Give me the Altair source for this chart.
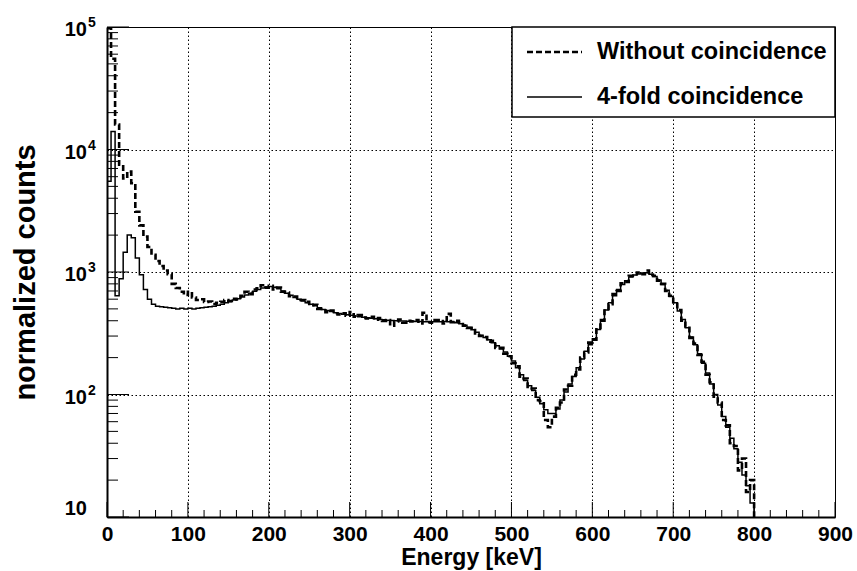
import altair as alt
import pandas as pd

FONT = "Liberation Sans"

# ---- data: histogram contents, 5 keV bins, left edges 0..795 keV ----
bin_edges = list(range(0, 800, 5))

fourfold_coinc = [
    5500, 14000, 640, 880, 1450, 2000, 1900, 1300, 950, 720,
    600, 545, 525, 520, 515, 510, 505, 500, 505, 500,
    505, 500, 505, 510, 515, 520, 525, 535, 545, 560,
    575, 590, 605, 625, 650, 670, 695, 720, 740, 755,
    760, 750, 730, 700, 670, 645, 620, 600, 580, 560,
    545, 530, 510, 495, 485, 475, 465, 458, 452, 447,
    443, 438, 432, 428, 424, 420, 415, 410, 407, 404,
    402, 400, 399, 398, 397, 396, 395, 394, 393, 393,
    392, 392, 393, 395, 393, 390, 385, 378, 368, 352,
    338, 322, 305, 292, 280, 265, 250, 235, 222, 205,
    188, 165, 145, 130, 118, 108, 95, 84, 75, 70,
    70, 76, 90, 105, 122, 140, 165, 195, 225, 255,
    285, 340, 410, 490, 560, 640, 720, 790, 850, 910,
    945, 965, 980, 985, 960, 920, 860, 790, 710, 630,
    560, 480, 410, 350, 295, 255, 215, 180, 150, 122,
    100, 82, 66, 54, 44, 36, 28, 22, 18, 13,
]

without_coinc = [
    98000, 55000, 16000, 7500, 5800, 6600, 5300, 3100, 2400, 1950,
    1600, 1380, 1230, 1120, 1030, 960, 800, 740, 690, 650,
    690, 620, 590, 600, 570, 575, 548, 560, 570, 590,
    578, 605, 598, 640, 690, 660, 720, 735, 780, 745,
    770, 720, 745, 690, 680, 635, 630, 590, 590, 570,
    535, 540, 500, 500, 470, 485, 460, 450, 460, 440,
    470, 432, 445, 425, 418, 430, 408, 420, 398, 405,
    365, 395, 410, 385, 400, 395, 405, 380, 465, 390,
    385, 405, 398, 380, 455, 390, 400, 388, 365, 350,
    350, 315, 300, 295, 270, 275, 240, 240, 215, 205,
    180, 170, 140, 135, 112, 112, 90, 88, 62, 54,
    66, 78, 86, 110, 118, 145, 160, 200, 220, 265,
    280, 350, 400, 500, 545, 660, 700, 810, 830, 930,
    930, 990, 960, 1030, 950, 930, 850, 800, 700, 640,
    550, 490, 400, 360, 290, 260, 210, 185, 145, 126,
    96, 86, 62, 56, 40, 38, 24, 30, 16, 20,
]

hist_end = 800          # histogram is empty above this energy
empty_level = 1         # stand-in for zero counts (below the log axis)

x_major = list(range(0, 901, 100))
x_minor = [e for e in range(0, 901, 20) if e % 100]
y_decades = [10, 100, 1000, 10000, 100000]
y_exponents = ["2", "3", "4", "5"]
y_minor = [m * 10 ** k for k in range(1, 5) for m in range(2, 10)]

legend_labels = ["Without coincidence", "4-fold coincidence"]

# ---- tables ----
def hist_frame(values):
    return pd.DataFrame({"E": bin_edges + [hist_end], "v": values + [empty_level]})

df_solid = hist_frame(fourfold_coinc)
df_dash = hist_frame(without_coinc)

W, H = 728, 490

x_scale = alt.Scale(domain=[0, 900], nice=False, zero=False)
y_scale = alt.Scale(type="log", domain=[10, 100000], nice=False)

GRID_DASH = [1.5, 2.5]

x_axis = alt.Axis(
    values=x_major, grid=True, gridColor="black", gridDash=GRID_DASH, gridWidth=1,
    gridOpacity=1, ticks=False, domainColor="black", domainWidth=2,
    labelFont=FONT, labelFontSize=21, labelFontWeight="bold", labelColor="black",
    labelPadding=6, labelFlush=False,
    title="Energy [keV]", titleFont=FONT, titleFontSize=23, titleFontWeight="bold",
    titleColor="black", titleX=W / 2, titleY=47, titleBaseline="alphabetic",
)
y_axis = alt.Axis(
    values=y_decades, grid=True, gridColor="black", gridDash=GRID_DASH, gridWidth=1,
    gridOpacity=1, ticks=False, labels=False, domainColor="black", domainWidth=2,
    title="normalized counts", titleFont=FONT, titleFontSize=29, titleFontWeight="bold",
    titleColor="black", titleX=-82, titleY=H / 2, titleBaseline="middle", titleAngle=270,
)

X = alt.X("E:Q", scale=x_scale, axis=x_axis)
Y = alt.Y("v:Q", scale=y_scale, axis=y_axis)

solid = alt.Chart(df_solid).mark_line(
    interpolate="step-after", clip=True, color="black", strokeWidth=1.5
).encode(x=X, y=Y)

dashed = alt.Chart(df_dash).mark_line(
    interpolate="step-after", clip=True, color="black", strokeWidth=2.6, strokeDash=[6, 3]
).encode(x=X, y=Y)

# inside ticks
xt_major = alt.Chart(pd.DataFrame({"E": x_major})).mark_rule(color="black", strokeWidth=1).encode(
    x=X, y=alt.value(H), y2=alt.value(H - 15))
xt_minor = alt.Chart(pd.DataFrame({"E": x_minor})).mark_rule(color="black", strokeWidth=1).encode(
    x=X, y=alt.value(H), y2=alt.value(H - 7))
yt_major = alt.Chart(pd.DataFrame({"v": y_decades})).mark_rule(color="black", strokeWidth=1).encode(
    y=Y, x=alt.value(0), x2=alt.value(22))
yt_minor = alt.Chart(pd.DataFrame({"v": y_minor})).mark_rule(color="black", strokeWidth=1).encode(
    y=Y, x=alt.value(0), x2=alt.value(11))

# y tick labels as 10 with superscript exponent
lab_df = pd.DataFrame({"v": y_decades[1:], "exp": y_exponents, "base": ["10"] * 4})
y_base = alt.Chart(lab_df).mark_text(
    font=FONT, fontSize=20, fontWeight="bold", color="black", align="right",
    baseline="alphabetic", dy=9
).encode(y=Y, x=alt.value(-20), text="base:N")
y_exp = alt.Chart(lab_df).mark_text(
    font=FONT, fontSize=14, fontWeight="bold", color="black", align="left",
    baseline="alphabetic", dy=0
).encode(y=Y, x=alt.value(-19), text="exp:N")
y_bottom = alt.Chart(pd.DataFrame({"v": [10], "base": ["10"]})).mark_text(
    font=FONT, fontSize=20, fontWeight="bold", color="black", align="right",
    baseline="alphabetic", dy=-2
).encode(y=Y, x=alt.value(-20), text="base:N")

# legend box
one = pd.DataFrame({"k": [0]})
leg_box = alt.Chart(one).mark_rect(fill="white", stroke="black", strokeWidth=1.5).encode(
    x=alt.value(405), x2=alt.value(W), y=alt.value(0), y2=alt.value(90))
leg_dash = alt.Chart(one).mark_rule(color="black", strokeWidth=2.6, strokeDash=[6, 3]).encode(
    x=alt.value(420), x2=alt.value(475), y=alt.value(25))
leg_solid = alt.Chart(one).mark_rule(color="black", strokeWidth=1.5).encode(
    x=alt.value(420), x2=alt.value(475), y=alt.value(70))
leg_t1 = alt.Chart(pd.DataFrame({"t": [legend_labels[0]]})).mark_text(
    font=FONT, fontSize=23.5, fontWeight="bold", color="black", align="left", baseline="middle"
).encode(x=alt.value(490), y=alt.value(25), text="t:N")
leg_t2 = alt.Chart(pd.DataFrame({"t": [legend_labels[1]]})).mark_text(
    font=FONT, fontSize=23.5, fontWeight="bold", color="black", align="left", baseline="middle"
).encode(x=alt.value(490), y=alt.value(70), text="t:N")

chart = alt.layer(
    solid, dashed, xt_major, xt_minor, yt_major, yt_minor,
    y_base, y_exp, y_bottom,
    leg_box, leg_dash, leg_solid, leg_t1, leg_t2,
).properties(
    width=W, height=H,
    autosize=alt.AutoSizeParams(type="none"),
    padding={"left": 107, "top": 27, "right": 22, "bottom": 54},
    background="white",
).configure_view(stroke="black", strokeWidth=1)

chart.save("out.html", embed_options={"renderer": "svg", "actions": False})
